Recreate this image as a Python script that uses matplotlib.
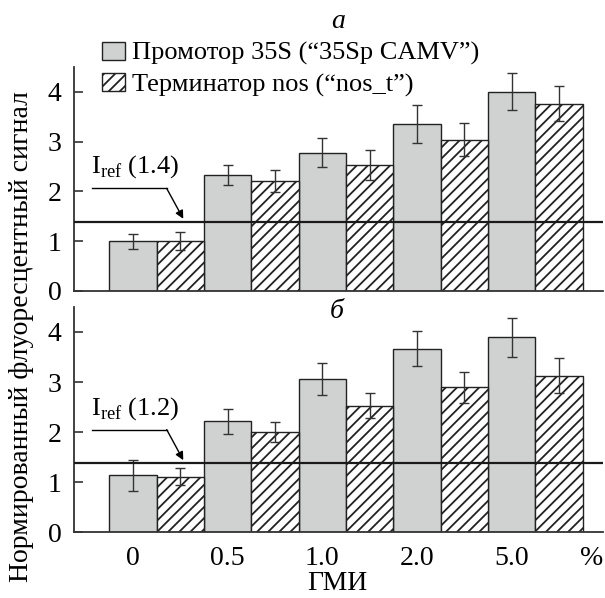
import matplotlib
matplotlib.use('Agg')
import matplotlib.pyplot as plt
from matplotlib.patches import Patch

plt.rcParams['font.family'] = ['Liberation Serif', 'DejaVu Serif']
plt.rcParams['mathtext.fontset'] = 'custom'
plt.rcParams['mathtext.rm'] = 'Liberation Serif'
plt.rcParams['hatch.linewidth'] = 1.3

# данные
konc = ['0', '0.5', '1.0', '2.0', '5.0']
promotor_a = [1.0, 2.33, 2.78, 3.36, 4.0]
promotor_a_err = [0.15, 0.21, 0.29, 0.38, 0.37]
terminator_a = [1.0, 2.21, 2.53, 3.04, 3.76]
terminator_a_err = [0.18, 0.23, 0.31, 0.33, 0.35]

promotor_b = [1.14, 2.22, 3.07, 3.67, 3.89]
promotor_b_err = [0.31, 0.25, 0.32, 0.34, 0.39]
terminator_b = [1.11, 2.01, 2.53, 2.90, 3.13]
terminator_b_err = [0.17, 0.20, 0.25, 0.31, 0.35]

iref_a = 1.39
iref_b = 1.38

cinza = '#d0d2d1'
escuro = '#222222'
fs = 20

fig = plt.figure(figsize=(6.05, 5.98), dpi=100)
ax_a = fig.add_axes([0.1223, 0.5134, 0.8744, 0.3746])
ax_b = fig.add_axes([0.1223, 0.1099, 0.8744, 0.3768])

x = list(range(len(konc)))
x2 = [i + 0.5 for i in x]


def painel(ax, prom, prom_err, term, term_err, iref, rotulo_iref):
    ax.bar(x, prom, width=0.5, color=cinza, edgecolor=escuro, linewidth=1.0, zorder=2)
    ax.bar(x2, term, width=0.5, color='white', edgecolor=escuro, hatch='///',
           linewidth=1.0, zorder=2)
    ax.errorbar(x, prom, yerr=prom_err, fmt='none', ecolor='#333333', elinewidth=1.0,
                capsize=3.4, capthick=1.0, zorder=3)
    ax.errorbar(x2, term, yerr=term_err, fmt='none', ecolor='#333333', elinewidth=1.0,
                capsize=3.4, capthick=1.0, zorder=3)
    ax.axhline(iref, color='#1a1a1a', linewidth=1.6, zorder=4)
    # подпись I_ref со стрелкой
    ax.plot([-0.436, 0.356], [iref + 0.67, iref + 0.67], color='black', linewidth=1.0, zorder=4)
    ax.annotate('', xy=(0.531, iref + 0.06), xytext=(0.356, iref + 0.67),
                arrowprops=dict(arrowstyle='-|>', color='black', lw=1.0,
                                mutation_scale=12, shrinkA=0, shrinkB=0), zorder=4)
    ax.text(-0.44, iref + 0.98, rotulo_iref, fontsize=19, ha='left', va='baseline')

    ax.set_xlim(-0.623, 4.963)
    ax.set_ylim(0, 4.5)
    ax.set_yticks([0, 1, 2, 3, 4])
    ax.tick_params(axis='y', direction='in', length=6.5, width=1.2, color='#333333',
                   labelsize=fs, pad=9)
    ax.tick_params(axis='x', length=0, labelsize=fs, pad=10)
    for s in ['top', 'right']:
        ax.spines[s].set_visible(False)
    for s in ['left', 'bottom']:
        ax.spines[s].set_linewidth(1.3)
        ax.spines[s].set_color('#333333')


painel(ax_a, promotor_a, promotor_a_err, terminator_a, terminator_a_err, iref_a,
       r'I$_{\mathrm{ref}}$ (1.4)')
painel(ax_b, promotor_b, promotor_b_err, terminator_b, terminator_b_err, iref_b,
       r'I$_{\mathrm{ref}}$ (1.2)')

ax_a.set_xticks([])
ax_b.set_xticks(x + [4.84], konc + ['%'])

legenda = [Patch(facecolor=cinza, edgecolor=escuro, linewidth=1.0),
           Patch(facecolor='white', edgecolor=escuro, hatch='///', linewidth=1.0)]
fig.legend(legenda, ['Промотор 35S (“35Sp CAMV”)', 'Терминатор nos (“nos_t”)'],
           loc='upper left', bbox_to_anchor=(102 / 605, 1 - 42 / 598), frameon=False,
           fontsize=19, handlelength=0.88, handleheight=0.65, handletextpad=0.25,
           labelspacing=0.3, borderpad=0, borderaxespad=0)

fig.text(338 / 605, 1 - 22 / 598, 'а', fontsize=fs, style='italic', ha='center', va='center')
fig.text(337 / 605, 1 - 311 / 598, 'б', fontsize=fs, style='italic', ha='center', va='center')
fig.text(22 / 605, 1 - 337 / 598, 'Нормированный флуоресцентный сигнал', fontsize=fs,
         rotation=90, ha='center', va='center')
fig.text(337 / 605, 1 - 584 / 598, 'ГМИ', fontsize=fs, ha='center', va='center')

fig.savefig('out.png', dpi=100)
